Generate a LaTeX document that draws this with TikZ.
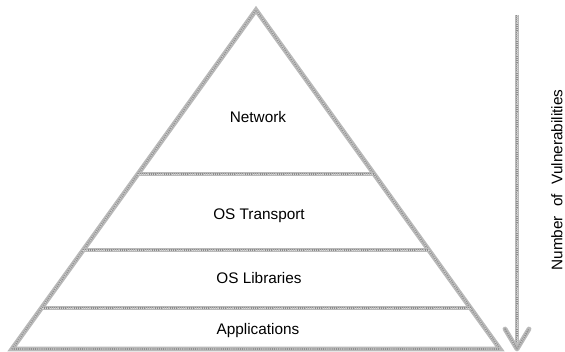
\documentclass[tikz,border=0pt]{standalone}
\usepackage{fontspec}
\setmainfont{Liberation Sans}
\usetikzlibrary{calc}
\begin{document}
\begin{tikzpicture}[x=0.75pt,y=-0.75pt,
  texline/.style={draw=gray!55,line width=3.6pt,
    postaction={draw=gray!90,line width=1.2pt,dash pattern=on 0.7pt off 0.9pt},
    postaction={draw=white!70!gray,line width=0.5pt,dash pattern=on 0.5pt off 1.1pt,dash phase=0.4pt}},
  layer/.style={font=\fontsize{11.5pt}{13pt}\selectfont,inner sep=0pt}]
  \useasboundingbox (0,0) rectangle (565,352);
  % pyramid corners
  \coordinate (apex) at (256,10);
  \coordinate (bl) at (12,349);
  \coordinate (br) at (500,349);
  % outline
  \draw[texline,line join=miter] (bl) -- (apex) -- (br) -- cycle;
  % layer dividers
  \coordinate (l1) at ($(apex)!0.4838!(bl)$);
  \coordinate (r1) at ($(apex)!0.4838!(br)$);
  \coordinate (l2) at ($(apex)!0.708!(bl)$);
  \coordinate (r2) at ($(apex)!0.708!(br)$);
  \coordinate (l3) at ($(apex)!0.879!(bl)$);
  \coordinate (r3) at ($(apex)!0.879!(br)$);
  \draw[texline] (l1) -- (r1);
  \draw[texline] (l2) -- (r2);
  \draw[texline] (l3) -- (r3);
  % layer labels
  \node[layer] (net) at (258,117) {Network};
  \node[layer] (trans) at (259,216) {OS Transport};
  \node[layer] (libs) at (259,278) {OS Libraries};
  \node[layer] (apps) at (258,331) {Applications};
  % vulnerability arrow
  \coordinate (atop) at (517,15);
  \coordinate (atip) at (517,349);
  \coordinate (hl) at (505,329);
  \coordinate (hr) at (529,329);
  \draw[texline] (atop) -- (atip);
  \draw[texline,line join=round,line cap=round] (hl) -- (atip) -- (hr);
  \node[layer,rotate=90] (vuln) at (557,180) {Number\hspace{7pt}of\hspace{7pt}Vulnerabilities};
\end{tikzpicture}
\end{document}
